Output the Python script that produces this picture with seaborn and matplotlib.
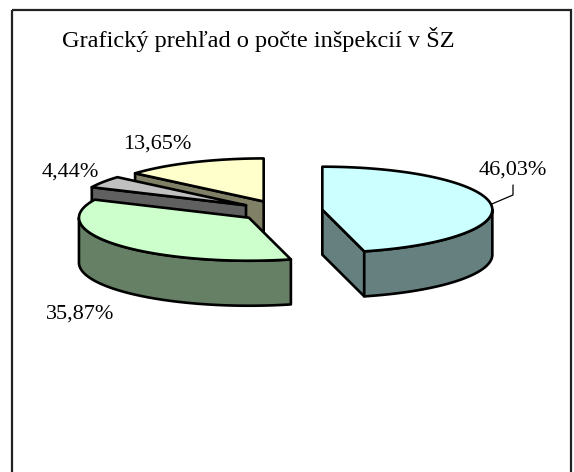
import numpy as np
import matplotlib
matplotlib.use("Agg")
import matplotlib.pyplot as plt
from matplotlib.patches import Polygon, Rectangle
import seaborn as sns

# ---- data ----
values = [46.03, 35.87, 4.44, 13.65]
top_colors = ["#CCFFFF", "#CCFFCC", "#C0C0C0", "#FFFFCC"]
side_colors = ["#668080", "#668066", "#606060", "#808066"]
labels = [f"{v:.2f}%".replace(".", ",") for v in values]
title = "Grafický prehľad o počte inšpekcií v ŠZ"

sns.set_theme(style="white")
plt.rcParams["font.family"] = ["Liberation Serif", "DejaVu Serif"]

W, H = 574, 472
fig = plt.figure(figsize=(W / 100, H / 100), dpi=100)
ax = fig.add_axes([0, 0, 1, 1])
ax.set_xlim(0, W)
ax.set_ylim(H, 0)
ax.axis("off")

# ---- 3D pie geometry (pixel layout) ----
cx, cy = 281, 211
rx, ry = 170, 43
depth = 45
explode = 0.245
lw = 1.9


def rim(c, th, dz=0.0):
    t = np.radians(th)
    return (c[0] + rx * np.cos(t), c[1] - ry * np.sin(t) + dz)


def arc(c, a, b, dz=0.0, n=80):
    return [rim(c, t, dz) for t in np.linspace(a, b, n)]


total = sum(values)
slices = []
start = 90.0
for i, v in enumerate(values):
    span = 360.0 * v / total
    b = start
    a = start - span
    start = a
    mid = (a + b) / 2
    m = np.radians(mid)
    c = (cx + explode * rx * np.cos(m), cy - explode * ry * np.sin(m))
    slices.append(dict(i=i, a=a, b=b, mid=mid, c=c))

for s in sorted(slices, key=lambda s: s["c"][1]):
    i, a, b, c = s["i"], s["a"], s["b"], s["c"]
    side = side_colors[i]
    # radial cut faces
    for ang, normal in ((a, a - 90), (b, b + 90)):
        if np.sin(np.radians(normal)) < -1e-6:
            p1 = rim(c, ang)
            poly = [c, p1, (p1[0], p1[1] + depth), (c[0], c[1] + depth)]
            ax.add_patch(Polygon(poly, closed=True, facecolor=side,
                                 edgecolor="black", lw=lw, joinstyle="round"))
    # outer wall (front half)
    for k in (-1, 0, 1):
        lo = max(a, 180 + 360 * k)
        hi = min(b, 360 + 360 * k)
        if hi > lo:
            poly = arc(c, lo, hi) + arc(c, lo, hi, depth)[::-1]
            ax.add_patch(Polygon(poly, closed=True, facecolor=side,
                                 edgecolor="black", lw=lw, joinstyle="round"))
    # top face
    poly = [c] + arc(c, a, b)
    ax.add_patch(Polygon(poly, closed=True, facecolor=top_colors[i],
                         edgecolor="black", lw=lw, joinstyle="round"))

# ---- labels ----
label_pos = [(513, 175), (80, 319), (70, 177), (157, 149)]
fs = 16
for s in slices:
    i = s["i"]
    x, y = label_pos[i]
    ax.text(x, y, labels[i], ha="center", va="baseline", fontsize=fs,
            color="black")

# leader line for the largest slice
s0 = slices[0]
p = rim(s0["c"], s0["mid"])
lx, ly = label_pos[0]
ax.plot([p[0], lx, lx], [p[1], ly + 20, ly + 10], color="black", lw=0.9)

ax.text(62, 47, title, ha="left", va="baseline", fontsize=17.6, color="black")

ax.add_patch(Rectangle((12, 10), 559, 470, fill=False, edgecolor="#222222",
                       lw=1.6))

fig.savefig("out.png", dpi=100)
